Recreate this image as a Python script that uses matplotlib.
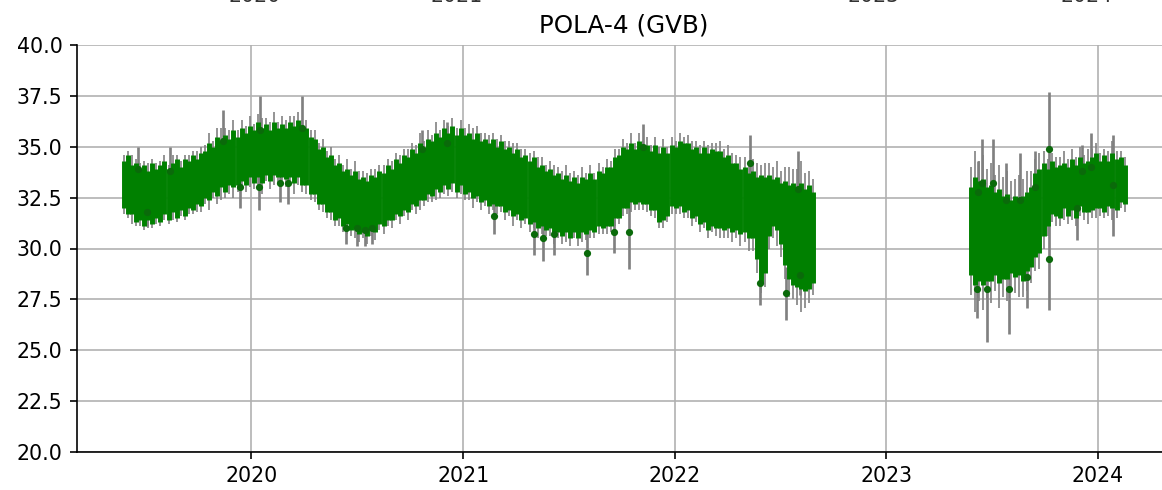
import matplotlib
matplotlib.use("Agg")
import matplotlib.pyplot as plt
import matplotlib.dates as mdates
import numpy as np
import pandas as pd

station = "POLA-4 (GVB)"

# ---- first deployment: weekly envelope of the hourly series ----
dep1_start, dep1_end = "2019-05-26", "2022-08-28"
dep1_hi = [
    34.3, 34.6, 34.1, 34.2, 33.9, 34.1, 33.8, 34.2, 33.9, 34.1,
    34.3, 33.9, 34.2, 34.4, 34.0, 34.4, 34.3, 34.6, 34.4, 34.7,
    34.8, 35.2, 35.0, 35.5, 35.3, 35.6, 35.4, 35.8, 35.5, 35.9,
    35.7, 36.0, 35.8, 36.2, 35.9, 36.1, 35.8, 36.2, 35.9, 36.1,
    35.9, 36.2, 36.0, 36.3, 36.0, 35.9, 35.5, 35.4, 34.9, 35.0,
    34.5, 34.6, 34.1, 34.2, 33.8, 33.9, 33.6, 33.8, 33.4, 33.5,
    33.3, 33.6, 33.5, 33.8, 33.7, 34.1, 33.9, 34.4, 34.2, 34.6,
    34.5, 34.9, 34.7, 35.2, 35.0, 35.4, 35.3, 35.7, 35.5, 35.9,
    35.7, 36.0, 35.6, 35.9, 35.6, 35.7, 35.4, 35.7, 35.3, 35.4,
    35.2, 35.4, 35.0, 35.3, 34.9, 35.0, 34.7, 34.9, 34.5, 34.6,
    34.3, 34.5, 34.0, 34.1, 33.8, 33.9, 33.6, 33.7, 33.4, 33.6,
    33.3, 33.5, 33.2, 33.5, 33.4, 33.7, 33.4, 33.8, 33.7, 34.0,
    34.0, 34.5, 34.6, 35.0, 34.9, 35.2, 34.9, 35.3, 35.0, 35.1,
    34.8, 35.1, 34.7, 35.0, 34.7, 35.1, 35.0, 35.3, 35.2, 35.2,
    34.9, 35.0, 34.7, 35.0, 34.7, 34.9, 34.8, 34.8, 34.5, 34.6,
    34.2, 34.2, 33.9, 34.0, 33.7, 33.8, 33.5, 33.6, 33.5, 33.6,
    33.4, 33.5, 33.2, 33.3, 33.1, 33.2, 33.0, 33.2, 32.9, 33.1,
    32.8,
]
dep1_lo = [
    32.0, 31.7, 31.7, 31.3, 31.4, 31.1, 31.4, 31.2, 31.5, 31.3,
    31.7, 31.4, 31.8, 31.5, 31.9, 31.6, 32.0, 31.9, 32.2, 32.1,
    32.5, 32.4, 32.8, 32.6, 33.0, 32.8, 33.1, 33.0, 33.1, 33.3,
    33.1, 33.5, 33.2, 33.5, 33.2, 33.6, 33.3, 33.6, 33.5, 33.5,
    33.4, 33.5, 33.2, 33.5, 33.1, 33.1, 32.7, 32.7, 32.2, 32.2,
    31.8, 31.8, 31.4, 31.5, 31.1, 31.2, 30.9, 31.0, 30.7, 30.8,
    30.6, 30.9, 30.8, 31.2, 31.1, 31.4, 31.4, 31.7, 31.6, 31.9,
    31.8, 32.2, 32.1, 32.4, 32.4, 32.7, 32.6, 32.9, 32.8, 33.1,
    32.9, 33.2, 32.8, 33.1, 32.7, 32.8, 32.5, 32.6, 32.3, 32.4,
    32.1, 32.2, 32.1, 32.1, 31.8, 31.9, 31.6, 31.7, 31.4, 31.5,
    31.2, 31.3, 31.0, 31.1, 30.9, 31.0, 30.7, 30.8, 30.6, 30.8,
    30.5, 30.8, 30.5, 30.8, 30.7, 30.9, 30.8, 31.1, 31.0, 31.1,
    31.1, 31.5, 31.5, 32.0, 32.0, 32.3, 32.2, 32.3, 32.2, 32.2,
    31.9, 31.9, 31.3, 31.4, 31.6, 32.1, 32.0, 32.1, 31.8, 31.9,
    31.5, 31.6, 31.2, 31.3, 30.9, 31.1, 31.0, 31.0, 30.9, 31.0,
    30.8, 30.9, 30.7, 30.8, 30.5, 30.5, 29.5, 28.3, 28.8, 30.6,
    31.1, 30.9, 30.2, 29.2, 28.5, 28.2, 28.1, 28.0, 27.9, 28.0,
    28.3,
]
dep1_err = [
    0.3, 0.2, 0.5, 0.2, 0.3, 0.2, 0.4, 0.2, 0.3, 0.2,
    0.3, 0.2, 0.4, 0.2, 0.3, 0.2, 0.3, 0.2, 0.4, 0.3,
    0.3, 0.5, 0.3, 0.4, 0.6, 0.3, 0.4, 0.5, 0.3, 0.4,
    0.3, 0.5, 0.3, 0.4, 0.5, 0.3, 0.4, 0.5, 0.3, 0.4,
    0.4, 0.3, 0.5, 0.4, 0.3, 0.4, 0.3, 0.4, 0.3, 0.4,
    0.3, 0.4, 0.3, 0.4, 0.3, 0.5, 0.3, 0.5, 0.4, 0.3,
    0.4, 0.3, 0.4, 0.3, 0.4, 0.3, 0.4, 0.3, 0.4, 0.3,
    0.4, 0.3, 0.4, 0.5, 0.3, 0.4, 0.3, 0.5, 0.3, 0.4,
    0.3, 0.4, 0.3, 0.4, 0.3, 0.4, 0.5, 0.3, 0.4, 0.3,
    0.4, 0.3, 0.4, 0.3, 0.4, 0.3, 0.5, 0.3, 0.4, 0.3,
    0.4, 0.3, 0.5, 0.4, 0.3, 0.4, 0.5, 0.3, 0.4, 0.5,
    0.4, 0.3, 0.4, 0.5, 0.3, 0.4, 0.3, 0.4, 0.3, 0.4,
    0.3, 0.4, 0.3, 0.4, 0.3, 0.5, 0.3, 0.4, 0.3, 0.4,
    0.3, 0.4, 0.3, 0.4, 0.3, 0.4, 0.3, 0.4, 0.3, 0.4,
    0.4, 0.3, 0.4, 0.3, 0.4, 0.3, 0.4, 0.5, 0.4, 0.5,
    0.5, 0.4, 0.6, 0.5, 0.6, 0.6, 0.7, 0.5, 0.7, 0.6,
    0.6, 0.8, 0.6, 0.7, 0.9, 0.7, 0.9, 1.1, 0.8, 0.7,
    0.6,
]

# ---- second deployment ----
dep2_start, dep2_end = "2023-05-26", "2024-02-16"
dep2_hi = [
    33.0, 33.5, 33.3, 33.4, 33.0, 33.1, 32.8, 32.9, 32.6, 32.7,
    32.4, 32.6, 32.5, 32.6, 32.8, 33.0, 33.7, 33.9, 34.2, 33.9,
    34.3, 34.0, 34.1, 34.2, 34.0, 34.4, 34.1, 34.5, 34.2, 34.3,
    34.5, 34.7, 34.3, 34.6, 34.3, 34.7, 34.4, 34.5, 34.1,
]
dep2_lo = [
    28.7, 28.2, 28.4, 28.2, 28.4, 28.4, 28.7, 28.3, 28.5, 28.5,
    28.8, 28.6, 28.7, 28.4, 28.9, 29.1, 29.6, 29.8, 30.6, 31.1,
    31.7, 31.6, 31.5, 32.0, 31.6, 31.9, 31.5, 32.1, 31.8, 31.8,
    31.9, 32.0, 32.0, 31.8, 32.1, 32.0, 31.9, 32.3, 32.2,
]
dep2_err = [
    1.0, 1.3, 1.0, 1.2, 0.9, 1.1, 0.8, 1.2, 0.9, 1.1,
    0.9, 0.8, 1.1, 0.8, 1.0, 0.8, 0.7, 0.8, 0.6, 0.5,
    0.4, 0.5, 0.4, 0.6, 0.4, 0.5, 0.4, 0.5, 0.4, 0.6,
    0.4, 0.5, 0.4, 0.3, 0.5, 0.6, 0.4, 0.3, 0.4,
]

# ---- individual readings with large uncertainty ----
spike_dates = [
    "2019-06-20", "2019-07-05", "2019-08-14", "2019-11-13", "2019-12-13",
    "2020-01-14", "2020-01-16", "2020-02-20", "2020-03-05", "2020-03-28",
    "2020-06-12", "2020-07-01", "2020-07-15", "2020-07-27", "2020-10-22",
    "2020-12-03", "2021-02-22", "2021-05-02", "2021-05-19", "2021-06-06",
    "2021-08-02", "2021-09-17", "2021-10-13", "2021-11-07", "2022-05-11",
    "2022-05-28", "2022-07-12", "2022-08-02", "2022-08-05",
    "2023-06-06", "2023-06-08", "2023-06-15", "2023-06-23", "2023-07-04",
    "2023-07-27", "2023-08-01", "2023-08-20", "2023-08-31", "2023-09-14",
    "2023-10-08", "2023-10-09", "2023-11-25", "2023-12-04", "2023-12-20",
    "2024-01-27",
]
spike_values = [
    33.9, 31.8, 33.8, 35.3, 33.0,
    33.0, 35.8, 33.2, 33.2, 35.9,
    31.0, 31.0, 30.9, 31.0, 34.9,
    35.2, 31.6, 30.7, 30.5, 30.7,
    29.8, 30.8, 30.8, 35.0, 34.2,
    28.3, 27.8, 32.9, 28.7,
    28.0, 32.8, 33.2, 28.0, 33.2,
    32.4, 28.0, 32.4, 28.6, 33.0,
    29.5, 34.9, 32.0, 33.8, 34.0,
    33.1,
]
spike_errors = [
    1.1, 0.7, 1.2, 1.5, 1.0,
    1.1, 1.7, 0.9, 1.0, 1.6,
    0.8, 0.9, 0.8, 0.8, 0.9,
    1.0, 0.9, 1.0, 1.1, 1.0,
    1.1, 1.0, 1.8, 1.1, 1.4,
    1.1, 1.3, 1.9, 1.0,
    1.4, 1.5, 2.2, 2.6, 2.2,
    1.8, 2.2, 2.3, 1.5, 1.8,
    2.5, 2.8, 1.6, 1.3, 1.7,
    2.5,
]

y_ticks = [20.0, 22.5, 25.0, 27.5, 30.0, 32.5, 35.0, 37.5, 40.0]
upper_panel_labels = ["2020", "2021", "2023", "2024"]

segments = [
    (dep1_start, dep1_end, dep1_hi, dep1_lo, dep1_err),
    (dep2_start, dep2_end, dep2_hi, dep2_lo, dep2_err),
]

DPI = 148
fig = plt.figure(figsize=(1162 / DPI, 490 / DPI), dpi=DPI)
ax = fig.add_axes([77 / 1162, 1 - 452 / 490, (1171 - 77) / 1162, 407 / 490])
ax.set_axisbelow(True)
ax.grid(True, color="#b0b0b0", linewidth=0.8)

weekly = []
for start, end, hi, lo, err in segments:
    d = pd.date_range(start, end, freq="7D")
    hi, lo, err = np.asarray(hi), np.asarray(lo), np.asarray(err)
    assert len(d) == len(hi) == len(lo) == len(err)
    weekly.append((d, hi, lo, err))
    # measurement uncertainty around the weekly spread
    ax.vlines(d, lo - err, hi + err, color="gray", linewidth=0.8, zorder=2)

sd = pd.to_datetime(spike_dates)
ax.errorbar(sd, spike_values, yerr=spike_errors, fmt="none",
            ecolor="gray", elinewidth=1.3, zorder=2)

for d, hi, lo, err in weekly:
    ax.vlines(d, lo, hi, color="green", linewidth=2.4, zorder=3)

ax.plot(sd, spike_values, "o", ms=2.5, color="#0a6a0a", zorder=4)

ax.set_ylim(20, 40)
ax.set_yticks(y_ticks)
ax.set_xlim(pd.Timestamp("2019-03-06"), pd.Timestamp("2024-05-06"))
ax.xaxis.set_major_locator(mdates.YearLocator())
ax.xaxis.set_major_formatter(mdates.DateFormatter("%Y"))
for side in ("top", "right"):
    ax.spines[side].set_visible(False)
ax.set_title(station)

# tick labels of the panel above, clipped by the figure edge
for label, xpx in zip(upper_panel_labels, [255, 457, 874, 1087]):
    fig.text(xpx / 1162, 1 - 1.5 / 490, label, ha="center", va="baseline",
             fontsize=10, color="#333333")

fig.savefig("out.png", dpi=DPI)
